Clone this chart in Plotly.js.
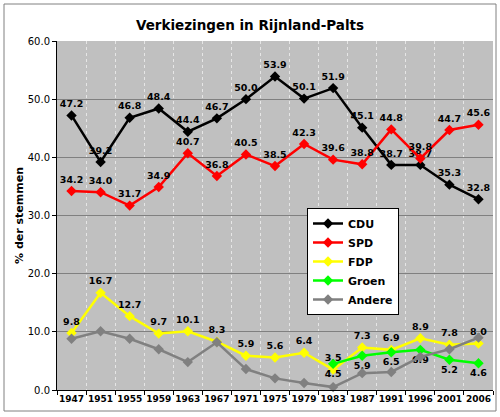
<!DOCTYPE html>
<html><head><meta charset="utf-8">
<script src="https://cdn.plot.ly/plotly-3.0.1.min.js"></script>
<style>html,body{margin:0;padding:0;background:#fff}#chart{width:500px;height:417px}</style>
</head><body><div id="chart"></div>
<script>
const years = ['1947','1951','1955','1959','1963','1967','1971','1975','1979','1983','1987','1991','1996','2001','2006'];
const cdu = [47.2,39.2,46.8,48.4,44.4,46.7,50.0,53.9,50.1,51.9,45.1,38.7,38.7,35.3,32.8];
const spd = [34.2,34.0,31.7,34.9,40.7,36.8,40.5,38.5,42.3,39.6,38.8,44.8,39.8,44.7,45.6];
const fdp = [9.8,16.7,12.7,9.7,10.1,8.3,5.9,5.6,6.4,3.5,7.3,6.9,8.9,7.8,8.0];
const groenYears = ['1983','1987','1991','1996','2001','2006'];
const groen = [4.5,5.9,6.5,6.9,5.2,4.6];
const andere = [8.8,10.1,8.8,7.0,4.8,8.2,3.6,2.0,1.2,0.5,2.9,3.1,5.7,7.0,9.0];

const FONT = 'DejaVu Sans, Verdana, sans-serif';
const lblFont = {family: FONT, size: 9.5, color: '#000', weight: 'bold'};

function series(name, x, y, color, textpos, showText) {
  return {
    type: 'scatter', name: name, x: x, y: y,
    mode: showText ? 'lines+markers+text' : 'lines+markers',
    line: {color: color, width: 2.5},
    marker: {symbol: 'diamond', size: 8, color: color},
    texttemplate: showText ? '%{y:.1f}' : undefined,
    textposition: textpos,
    textfont: lblFont,
    cliponaxis: false
  };
}

const data = [
  series('CDU', years, cdu, '#000000', 'top center', true),
  series('SPD', years, spd, '#ff0000', 'top center', true),
  series('FDP', years, fdp, '#ffff00', 'top center', true),
  series('Groen', groenYears, groen, '#00ff00', 'bottom center', true),
  series('Andere', years, andere, '#808080', 'top center', false)
];

const layout = {
  width: 500, height: 417,
  margin: {l: 57, r: 7, t: 41, b: 27},
  paper_bgcolor: '#ffffff',
  plot_bgcolor: '#c0c0c0',
  showlegend: true,
  title: {text: 'Verkiezingen in Rijnland-Palts', font: {family: FONT, size: 13.5, color: '#000', weight: 'bold'},
          x: 0.5, xref: 'container', xanchor: 'center', y: 1 - 25/417, yref: 'container', yanchor: 'middle'},
  xaxis: {
    type: 'category', categoryorder: 'array', categoryarray: years,
    tickson: 'boundaries', ticks: 'outside', ticklen: 4, tickcolor: '#000',
    tickangle: 0,
    showgrid: true, gridcolor: '#e6e6e6', griddash: 'dot', gridwidth: 1,
    showline: true, linecolor: '#000', linewidth: 1,
    tickfont: {family: FONT, size: 9, color: '#000', weight: 'bold'},
    range: [-0.5, 14.5], fixedrange: true
  },
  yaxis: {
    range: [0, 60], dtick: 10, tickformat: '.1f',
    ticks: 'outside', ticklen: 4, tickcolor: '#000',
    showgrid: true, gridcolor: '#808080', gridwidth: 1,
    showline: true, linecolor: '#000', linewidth: 1, zeroline: false,
    tickfont: {family: FONT, size: 10, color: '#000'},
    title: {text: '% der stemmen', font: {family: FONT, size: 11, color: '#000', weight: 'bold'}, standoff: 1},
    fixedrange: true
  },
  legend: {
    x: (353-57)/436, y: (390-208)/349, xanchor: 'center', yanchor: 'top',
    bgcolor: '#ffffff', bordercolor: '#000', borderwidth: 1,
    font: {family: FONT, size: 11, color: '#000', weight: 'bold'},
    tracegroupgap: 0, itemwidth: 30
  },
  shapes: [{
    type: 'rect', xref: 'paper', yref: 'paper', layer: 'below',
    x0: (4-57)/436, x1: (496-57)/436, y0: (390-411)/349, y1: (390-4)/349,
    line: {color: '#808080', width: 1}, fillcolor: 'rgba(0,0,0,0)'
  }]
};

Plotly.newPlot('chart', data, layout, {displayModeBar: false, staticPlot: true});
</script></body></html>
